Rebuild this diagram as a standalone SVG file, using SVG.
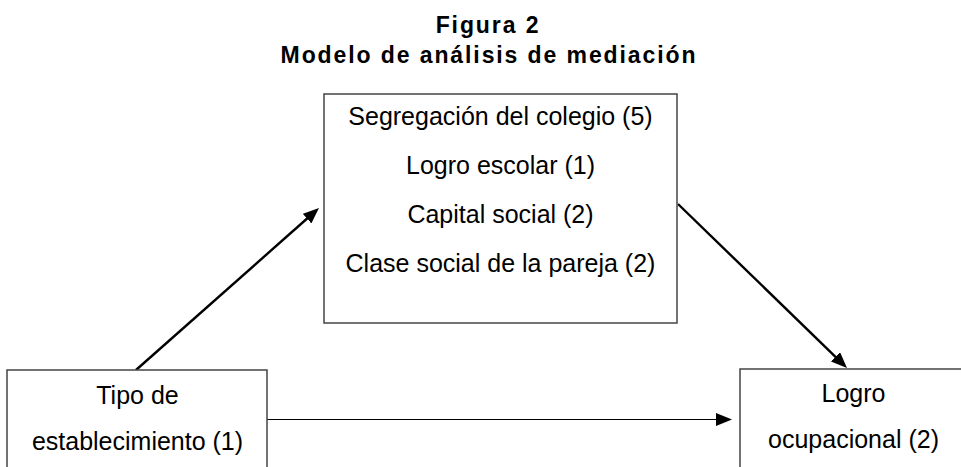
<svg xmlns="http://www.w3.org/2000/svg" width="961" height="467" viewBox="0 0 961 467">
  <style>
    .title { font-family: "Liberation Sans", Arial, sans-serif; font-weight: bold; font-size: 23px; letter-spacing: 1.9px; fill: #000; text-anchor: middle; }
    .lbl { font-family: "Liberation Sans", Arial, sans-serif; font-size: 25px; fill: #000; text-anchor: middle; }
    .box { fill: #fff; stroke: #444; stroke-width: 1.5; }
    .conn { stroke: #000; stroke-width: 2.4; fill: none; marker-end: url(#arrow); }
    .conn-thin { stroke: #000; stroke-width: 1.2; fill: none; marker-end: url(#arrow); }
  </style>
  <defs>
    <marker id="arrow" markerUnits="userSpaceOnUse" markerWidth="16" markerHeight="13" viewBox="0 0 16 13" refX="10" refY="6.5" orient="auto">
      <path d="M0,0 L16,6.5 L0,13 z" fill="#000"/>
    </marker>
  </defs>
  <rect width="961" height="467" fill="#fff"/>

  <g id="title">
    <text class="title" x="488" y="33">Figura 2</text>
    <text class="title" x="489" y="63">Modelo de análisis de mediación</text>
  </g>

  <g id="connectors">
    <line class="conn" x1="136" y1="370" x2="314.5" y2="212"/>
    <line class="conn" x1="678" y1="204" x2="842.7" y2="363.8"/>
    <line class="conn-thin" x1="267" y1="419.5" x2="726" y2="419.5"/>
  </g>

  <g id="node-mediadores">
    <rect class="box" x="324" y="94" width="353" height="229"/>
    <text class="lbl" x="500.5" y="125">Segregación del colegio (5)</text>
    <text class="lbl" x="500.5" y="173.5">Logro escolar (1)</text>
    <text class="lbl" x="500.5" y="222.5">Capital social (2)</text>
    <text class="lbl" x="500.5" y="271.5">Clase social de la pareja (2)</text>
  </g>

  <g id="node-tipo">
    <rect class="box" x="7" y="370" width="260" height="110"/>
    <text class="lbl" x="137.5" y="403.5">Tipo de</text>
    <text class="lbl" x="137.5" y="450">establecimiento (1)</text>
  </g>

  <g id="node-logro">
    <rect class="box" x="740" y="369" width="240" height="110"/>
    <text class="lbl" x="853.5" y="401.5">Logro</text>
    <text class="lbl" x="853.5" y="448">ocupacional (2)</text>
  </g>
</svg>
